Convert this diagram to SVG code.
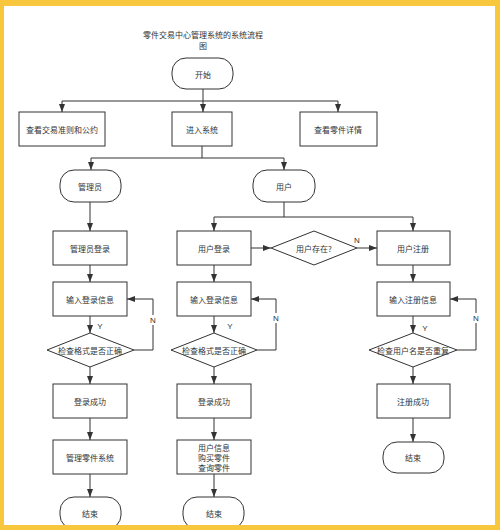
<svg xmlns="http://www.w3.org/2000/svg" width="500" height="530" viewBox="0 0 500 530">
<defs>
<style>
.n{fill:#fff;stroke:#333;stroke-width:1}
.t{font-family:"Noto Sans CJK SC","Noto Sans",sans-serif;font-size:8px;fill:#333;text-anchor:middle;dominant-baseline:central}
.c path{fill:none;stroke:#333;stroke-width:1}
.lb{font-family:"Liberation Sans","Noto Sans",sans-serif;font-size:8px;fill:#333;text-anchor:middle;dominant-baseline:central}
</style>
<marker id="a" markerUnits="userSpaceOnUse" markerWidth="8" markerHeight="8" viewBox="0 0 8 8" refX="8" refY="4" orient="auto">
<path d="M0,1 L8,4 L0,7 Z" fill="#333"/>
</marker>
</defs>
<rect x="0" y="0" width="500" height="530" fill="#fff"/>
<text class="t" x="203" y="34">零件交易中心管理系统的系统流程</text>
<text class="t" x="203" y="45">图</text>
<g class="c" id="connectors">
<path d="M203,89 V112" marker-end="url(#a)"/>
<path d="M62,101 H338"/>
<path d="M62,101 V112" marker-end="url(#a)"/>
<path d="M338,101 V112" marker-end="url(#a)"/>
<path d="M202,146 V158 M91,158 H284"/>
<path d="M91,158 V170" marker-end="url(#a)"/>
<path d="M284,158 V170" marker-end="url(#a)"/>
<path d="M90,202 V231" marker-end="url(#a)"/>
<path d="M90,265 V282" marker-end="url(#a)"/>
<path d="M90,316 V333" marker-end="url(#a)"/>
<path d="M134,350 H153 V299 H127" marker-end="url(#a)"/>
<path d="M90,367 V384" marker-end="url(#a)"/>
<path d="M90,418 V440" marker-end="url(#a)"/>
<path d="M90,474 V497" marker-end="url(#a)"/>
<path d="M284,202 V217 M214,217 H413"/>
<path d="M214,217 V231" marker-end="url(#a)"/>
<path d="M413,217 V231" marker-end="url(#a)"/>
<path d="M251,248 H271" marker-end="url(#a)"/>
<path d="M357,248 H377" marker-end="url(#a)"/>
<path d="M214,265 V282" marker-end="url(#a)"/>
<path d="M214,316 V333" marker-end="url(#a)"/>
<path d="M257,350 H276 V299 H251" marker-end="url(#a)"/>
<path d="M214,367 V384" marker-end="url(#a)"/>
<path d="M214,418 V440" marker-end="url(#a)"/>
<path d="M214,474 V497" marker-end="url(#a)"/>
<path d="M413,265 V282" marker-end="url(#a)"/>
<path d="M413,316 V333" marker-end="url(#a)"/>
<path d="M457,350 H476 V299 H450" marker-end="url(#a)"/>
<path d="M413,367 V384" marker-end="url(#a)"/>
<path d="M413,418 V442" marker-end="url(#a)"/>
<rect x="148" y="315" width="10" height="10" fill="#fff"/>
<rect x="271" y="313" width="10" height="10" fill="#fff"/>
<rect x="471" y="313" width="10" height="10" fill="#fff"/>
<text class="lb" x="153" y="320">N</text>
<text class="lb" x="276" y="318">N</text>
<text class="lb" x="476" y="318">N</text>
<text class="lb" x="357" y="240">N</text>
<text class="lb" x="100" y="326">Y</text>
<text class="lb" x="230" y="326">Y</text>
<text class="lb" x="425" y="328">Y</text>
</g>
<g id="start"><rect class="n" x="172" y="58" width="61" height="31" rx="14"/><text class="t" x="203" y="74">开始</text></g>
<g id="rules"><rect class="n" x="19" y="112" width="86" height="34"/><text class="t" x="62" y="129">查看交易准则和公约</text></g>
<g id="enter"><rect class="n" x="172" y="112" width="60" height="34"/><text class="t" x="202" y="129">进入系统</text></g>
<g id="parts"><rect class="n" x="300" y="112" width="77" height="34"/><text class="t" x="338" y="129">查看零件详情</text></g>
<g id="admin"><rect class="n" x="60" y="170" width="61" height="32" rx="14"/><text class="t" x="90" y="186">管理员</text></g>
<g id="user"><rect class="n" x="253" y="170" width="62" height="32" rx="14"/><text class="t" x="284" y="186">用户</text></g>
<g id="adminLogin"><rect class="n" x="53" y="231" width="74" height="34"/><text class="t" x="90" y="248">管理员登录</text></g>
<g id="adminInput"><rect class="n" x="53" y="282" width="74" height="34"/><text class="t" x="90" y="299">输入登录信息</text></g>
<g id="adminCheck"><polygon class="n" points="90,333 134,350 90,367 47,350"/><text class="t" x="90" y="350">检查格式是否正确</text></g>
<g id="adminOk"><rect class="n" x="53" y="384" width="74" height="34"/><text class="t" x="90" y="401">登录成功</text></g>
<g id="adminManage"><rect class="n" x="53" y="440" width="74" height="34"/><text class="t" x="90" y="457">管理零件系统</text></g>
<g id="adminEnd"><rect class="n" x="60" y="497" width="61" height="32" rx="14"/><text class="t" x="90" y="513">结束</text></g>
<g id="userLogin"><rect class="n" x="177" y="231" width="74" height="34"/><text class="t" x="214" y="248">用户登录</text></g>
<g id="userExists"><polygon class="n" points="314,231 357,248 314,265 271,248"/><text class="t" x="314" y="248">用户存在?</text></g>
<g id="userReg"><rect class="n" x="377" y="231" width="73" height="34"/><text class="t" x="413" y="248">用户注册</text></g>
<g id="userInput"><rect class="n" x="177" y="282" width="74" height="34"/><text class="t" x="214" y="299">输入登录信息</text></g>
<g id="userCheck"><polygon class="n" points="214,333 257,350 214,367 171,350"/><text class="t" x="214" y="350">检查格式是否正确</text></g>
<g id="userOk"><rect class="n" x="177" y="384" width="74" height="34"/><text class="t" x="214" y="401">登录成功</text></g>
<g id="userMenu"><rect class="n" x="177" y="440" width="74" height="34"/><text class="t" x="214" y="447">用户信息</text><text class="t" x="214" y="457">购买零件</text><text class="t" x="214" y="467">查询零件</text></g>
<g id="userEnd"><rect class="n" x="183" y="497" width="61" height="32" rx="14"/><text class="t" x="214" y="513">结束</text></g>
<g id="regInput"><rect class="n" x="377" y="282" width="73" height="34"/><text class="t" x="413" y="299">输入注册信息</text></g>
<g id="regCheck"><polygon class="n" points="413,333 457,350 413,367 369,350"/><text class="t" x="413" y="350">检查用户名是否重复</text></g>
<g id="regOk"><rect class="n" x="377" y="384" width="73" height="34"/><text class="t" x="413" y="401">注册成功</text></g>
<g id="regEnd"><rect class="n" x="383" y="442" width="61" height="31" rx="14"/><text class="t" x="413" y="457">结束</text></g>
<path d="M0,0 H500 V530 H0 Z M4,6 V525 H495 V6 Z" fill="#F8C73E" fill-rule="evenodd"/>
</svg>
